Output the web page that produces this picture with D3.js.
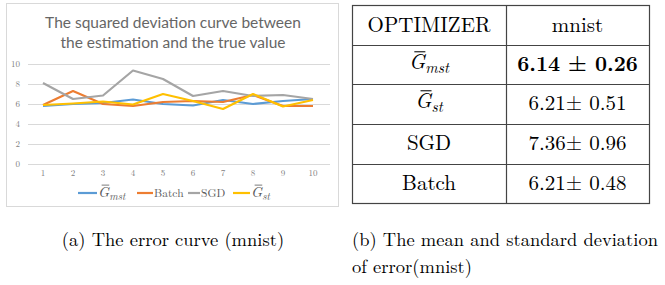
<!DOCTYPE html>
<html lang="en">
<head>
<meta charset="UTF-8" />
<style>
    body { margin: 0; background: #fff; }
    text { fill: #000; }
</style>
</head>
<body>
<svg id="fig" width="665" height="285"></svg>
<script src="https://cdn.jsdelivr.net/npm/d3@7"></script>
<script>
// error curve (mnist)
var epochs = [1, 2, 3, 4, 5, 6, 7, 8, 9, 10]
var gMst  = [5.8, 6.0, 6.1, 6.45, 6.0, 5.85, 6.4, 6.0, 6.3, 6.5]
var batch = [5.9, 7.3, 6.0, 5.8, 6.2, 6.3, 6.2, 6.9, 5.8, 5.8]
var sgd   = [8.1, 6.5, 6.85, 9.35, 8.5, 6.8, 7.3, 6.8, 6.9, 6.5]
var gSt   = [5.9, 6.05, 6.25, 5.95, 7.0, 6.3, 5.5, 7.0, 5.75, 6.4]
var yTicks = [0, 2, 4, 6, 8, 10]

// table
var optimizerNames = ["mst", "st", "SGD", "Batch"]
var mnistMean = ["6.14", "6.21", "7.36", "6.21"]
var mnistStd  = ["0.26", "0.51", "0.96", "0.48"]

var serif = "Latin Modern Roman, Liberation Serif, serif"
var svg = d3.select("#fig")

var series = [
    { name: "mst", math: true, values: gMst, color: "#5B9BD5" },
    { name: "Batch", math: false, values: batch, color: "#ED7D31" },
    { name: "SGD", math: false, values: sgd, color: "#A5A5A5" },
    { name: "st", math: true, values: gSt, color: "#FFC000" }
]

// G with a bar and italic subscript
function mathLabel(parent, x, y, sub, size, anchor, color) {
    var g = parent.append("g")
    var G = g.append("text").style("font-family", serif).attr("font-style", "italic")
        .attr("font-size", size).style("fill", color).text("G")
    var wG = G.node().getComputedTextLength()
    var s = g.append("text").style("font-family", serif).attr("font-style", "italic")
        .attr("font-size", size * 0.72).style("fill", color).text(sub)
    var ws = s.node().getComputedTextLength()
    var x0 = anchor === "middle" ? x - (wG + ws) / 2 : x
    G.attr("x", x0).attr("y", y)
    s.attr("x", x0 + wG).attr("y", y + size * 0.2)
    g.append("line")
        .attr("x1", x0 + size * 0.25).attr("x2", x0 + wG * 1.0)
        .attr("y1", y - size * 0.82).attr("y2", y - size * 0.82)
        .attr("stroke", color).attr("stroke-width", Math.max(0.8, size * 0.05))
    return wG + ws
}

// ---------- left: line chart ----------
svg.append("rect").attr("x", 6.5).attr("y", 3.5).attr("width", 332).attr("height", 203)
    .attr("fill", "#fff").attr("stroke", "#d9d9d9")

svg.append("text").attr("x", 173).attr("y", 28).attr("text-anchor", "middle")
    .style("font-family", "Lato, sans-serif").attr("font-size", 15.5)
    .style("fill", "#666").text("The squared deviation curve between")
svg.append("text").attr("x", 173).attr("y", 48).attr("text-anchor", "middle")
    .style("font-family", "Lato, sans-serif").attr("font-size", 15.5)
    .style("fill", "#666").text("the estimation and the true value")

var x = d3.scaleBand().domain(epochs).range([28, 328])
var y = d3.scaleLinear().domain([0, 10]).range([164, 64])

var grid = svg.append("g")
grid.selectAll("line").data(yTicks).enter().append("line")
    .attr("x1", 28).attr("x2", 330)
    .attr("y1", d => y(d) + 0.5).attr("y2", d => y(d) + 0.5)
    .attr("stroke", "#d9d9d9").attr("stroke-width", 1)

var yAxis = svg.append("g").attr("transform", "translate(21,0)")
    .call(d3.axisLeft(y).tickValues(yTicks).tickSize(0).tickPadding(1))
yAxis.select(".domain").remove()
yAxis.selectAll("text").style("font-family", serif).attr("font-size", 9).style("fill", "#808080")

var xAxis = svg.append("g").attr("transform", "translate(0,168)")
    .call(d3.axisBottom(x).tickSize(0).tickPadding(2))
xAxis.select(".domain").remove()
xAxis.selectAll("text").style("font-family", serif).attr("font-size", 9).style("fill", "#808080")

var line = d3.line().x((d, i) => x(epochs[i]) + x.bandwidth() / 2).y(d => y(d))
series.forEach(function (s) {
    svg.append("path").datum(s.values).attr("d", line)
        .attr("fill", "none").attr("stroke", s.color).attr("stroke-width", 2.2)
        .attr("stroke-linejoin", "round")
})

// legend
var legendX = [78, 137, 188, 233]
var legendLen = [19, 16, 12, 17]
series.forEach(function (s, i) {
    svg.append("line").attr("x1", legendX[i]).attr("x2", legendX[i] + legendLen[i])
        .attr("y1", 193).attr("y2", 193).attr("stroke", s.color).attr("stroke-width", 2.2)
    if (s.math) {
        mathLabel(svg, legendX[i] + legendLen[i] + 1, 197, s.name, 14.5, "start", "#595959")
    } else {
        svg.append("text").attr("x", legendX[i] + legendLen[i] + 1).attr("y", 197)
            .style("font-family", serif).attr("font-size", 11.5).style("fill", "#595959").text(s.name)
    }
})

svg.append("text").attr("x", 173).attr("y", 246).attr("text-anchor", "middle")
    .style("font-family", serif).attr("font-size", 18.5).text("(a) The error curve (mnist)")

// ---------- right: table ----------
var colX = [352, 506, 649]
var rowY = [5, 45, 84, 124, 164, 203]
var tbl = svg.append("g")
tbl.append("rect").attr("x", colX[0] + 0.5).attr("y", rowY[0] + 0.5)
    .attr("width", colX[2] - colX[0]).attr("height", rowY[5] - rowY[0])
    .attr("fill", "none").attr("stroke", "#444").attr("stroke-width", 1.2)
tbl.append("line").attr("x1", colX[1] + 0.5).attr("x2", colX[1] + 0.5)
    .attr("y1", rowY[0]).attr("y2", rowY[5]).attr("stroke", "#444").attr("stroke-width", 1.2)
tbl.selectAll(".rowline").data(rowY.slice(1, 5)).enter().append("line")
    .attr("x1", colX[0]).attr("x2", colX[2])
    .attr("y1", d => d + 0.5).attr("y2", d => d + 0.5)
    .attr("stroke", "#444").attr("stroke-width", 1.2)

var c1 = (colX[0] + colX[1]) / 2, c2 = (colX[1] + colX[2]) / 2
var cellFont = 21
function cellText(cx, cy, txt, bold) {
    return tbl.append("text").attr("x", cx).attr("y", cy).attr("text-anchor", "middle")
        .style("font-family", serif).attr("font-size", cellFont)
        .attr("font-weight", bold ? "bold" : "normal").text(txt)
}
cellText(c1, rowY[0] + 27, "OPTIMIZER")
cellText(c2, rowY[0] + 27, "mnist")
optimizerNames.forEach(function (name, i) {
    var base = rowY[i + 1] + 26
    if (i < 2) mathLabel(tbl, c1, base - 2, name, cellFont, "middle", "#000")
    else cellText(c1, base, name)
    if (i === 0) cellText(c2, base, mnistMean[i] + " \u00b1 " + mnistStd[i], true)
    else cellText(c2, base, mnistMean[i] + "\u00b1 " + mnistStd[i], false)
})

svg.append("text").attr("x", 352).attr("y", 246)
    .style("font-family", serif).attr("font-size", 18.5).text("(b) The mean and standard deviation")
svg.append("text").attr("x", 352).attr("y", 273)
    .style("font-family", serif).attr("font-size", 18.5).text("of error(mnist)")
</script>
</body>
</html>
